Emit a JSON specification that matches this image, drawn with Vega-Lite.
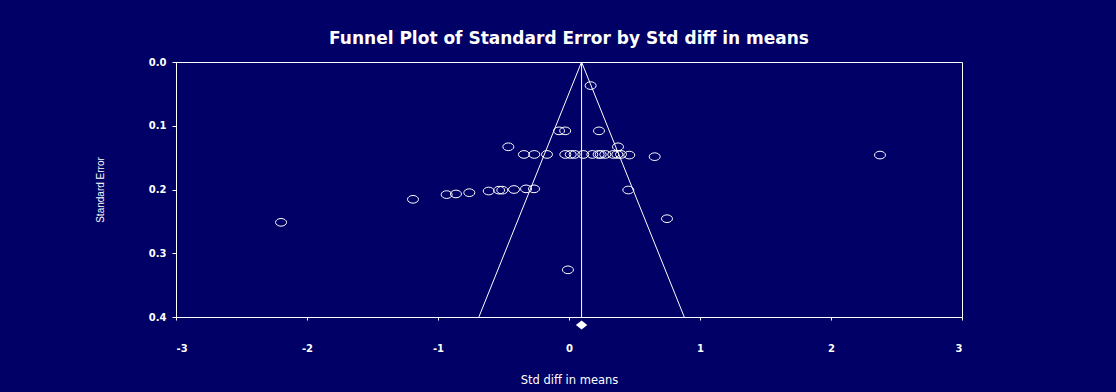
{
  "$schema": "https://vega.github.io/schema/vega-lite/v6.json",
  "autosize": "none",
  "width": 786,
  "height": 255,
  "padding": {"left": 176, "top": 62, "right": 154, "bottom": 75},
  "background": "#000066",
  "title": {
    "text": "Funnel Plot of Standard Error by Std diff in means",
    "font": "DejaVu Sans",
    "fontSize": 17,
    "fontWeight": "bold",
    "color": "#ffffff",
    "anchor": "middle",
    "offset": 9
  },
  "config": {
    "view": {"stroke": "#ffffff", "strokeWidth": 1},
    "axis": {
      "grid": false,
      "domainColor": "#ffffff",
      "tickColor": "#ffffff",
      "labelColor": "#ffffff",
      "titleColor": "#ffffff",
      "labelFont": "DejaVu Sans",
      "labelFontWeight": "bold",
      "labelFontSize": 10,
      "titleFontWeight": "normal"
    }
  },
  "datasets": {
    "studies": [
      {"effect": 0.165, "se": 0.037},
      {"effect": -0.076, "se": 0.108},
      {"effect": -0.029, "se": 0.108},
      {"effect": 0.229, "se": 0.108},
      {"effect": -0.463, "se": 0.133},
      {"effect": 0.374, "se": 0.133},
      {"effect": -0.344, "se": 0.145},
      {"effect": -0.265, "se": 0.145},
      {"effect": -0.168, "se": 0.145},
      {"effect": -0.028, "se": 0.145},
      {"effect": 0.013, "se": 0.145},
      {"effect": 0.043, "se": 0.145},
      {"effect": 0.109, "se": 0.145},
      {"effect": 0.178, "se": 0.145},
      {"effect": 0.226, "se": 0.145},
      {"effect": 0.242, "se": 0.145},
      {"effect": 0.277, "se": 0.145},
      {"effect": 0.338, "se": 0.145},
      {"effect": 0.369, "se": 0.145},
      {"effect": 0.397, "se": 0.145},
      {"effect": 0.460, "se": 0.146},
      {"effect": 0.654, "se": 0.1485},
      {"effect": 2.374, "se": 0.146},
      {"effect": -2.198, "se": 0.2515},
      {"effect": -1.191, "se": 0.2154},
      {"effect": -0.934, "se": 0.208},
      {"effect": -0.863, "se": 0.207},
      {"effect": -0.761, "se": 0.205},
      {"effect": -0.613, "se": 0.2024},
      {"effect": -0.534, "se": 0.201},
      {"effect": -0.509, "se": 0.201},
      {"effect": -0.420, "se": 0.200},
      {"effect": -0.328, "se": 0.199},
      {"effect": -0.267, "se": 0.199},
      {"effect": 0.453, "se": 0.2008},
      {"effect": 0.748, "se": 0.2458},
      {"effect": -0.008, "se": 0.326}
    ],
    "funnel": [
      {"x0": 0.096, "y0": 0, "x1": -0.688, "y1": 0.4},
      {"x0": 0.096, "y0": 0, "x1": 0.880, "y1": 0.4},
      {"x0": 0.096, "y0": 0, "x1": 0.096, "y1": 0.4}
    ],
    "summary": [
      {"effect": 0.096, "se": 0.4125}
    ]
  },
  "layer": [
    {
      "data": {"name": "funnel"},
      "mark": {"type": "rule", "color": "#ffffff", "strokeWidth": 1},
      "encoding": {
        "x": {
          "field": "x0", "type": "quantitative",
          "scale": {"domain": [-3, 3], "nice": false, "zero": false},
          "axis": {
            "values": [-3, -2, -1, 0, 1, 2, 3],
            "labelExpr": "datum.value < 0 ? '-' + abs(datum.value) : '' + datum.value",
            "tickSize": 3,
            "labelPadding": 23,
            "title": "Std diff in means",
            "titleFont": "DejaVu Sans",
            "titleFontSize": 11.5,
            "titlePadding": 21
          }
        },
        "x2": {"field": "x1"},
        "y": {
          "field": "y0", "type": "quantitative",
          "scale": {"domain": [0, 0.4], "nice": false, "zero": false, "reverse": true},
          "axis": {
            "values": [0, 0.1, 0.2, 0.3, 0.4],
            "format": ".1f",
            "tickSize": 4,
            "labelPadding": 6,
            "title": "Standard Error",
            "titleFont": "Liberation Sans",
            "titleFontSize": 10,
            "titlePadding": 43
          }
        },
        "y2": {"field": "y1"}
      }
    },
    {
      "data": {"name": "studies"},
      "mark": {
        "type": "point",
        "shape": "M -1 0 A 1 0.7 0 1 1 1 0 A 1 0.7 0 1 1 -1 0 Z",
        "filled": false,
        "stroke": "#ffffff",
        "strokeWidth": 1,
        "opacity": 1,
        "size": 121
      },
      "encoding": {
        "x": {"field": "effect", "type": "quantitative"},
        "y": {"field": "se", "type": "quantitative"}
      }
    },
    {
      "data": {"name": "summary"},
      "mark": {
        "type": "point",
        "shape": "M -1 0 L 0 -0.8 L 1 0 L 0 0.8 Z",
        "filled": true,
        "fill": "#ffffff",
        "opacity": 1,
        "size": 130,
        "clip": false
      },
      "encoding": {
        "x": {"field": "effect", "type": "quantitative"},
        "y": {"field": "se", "type": "quantitative"}
      }
    }
  ]
}
